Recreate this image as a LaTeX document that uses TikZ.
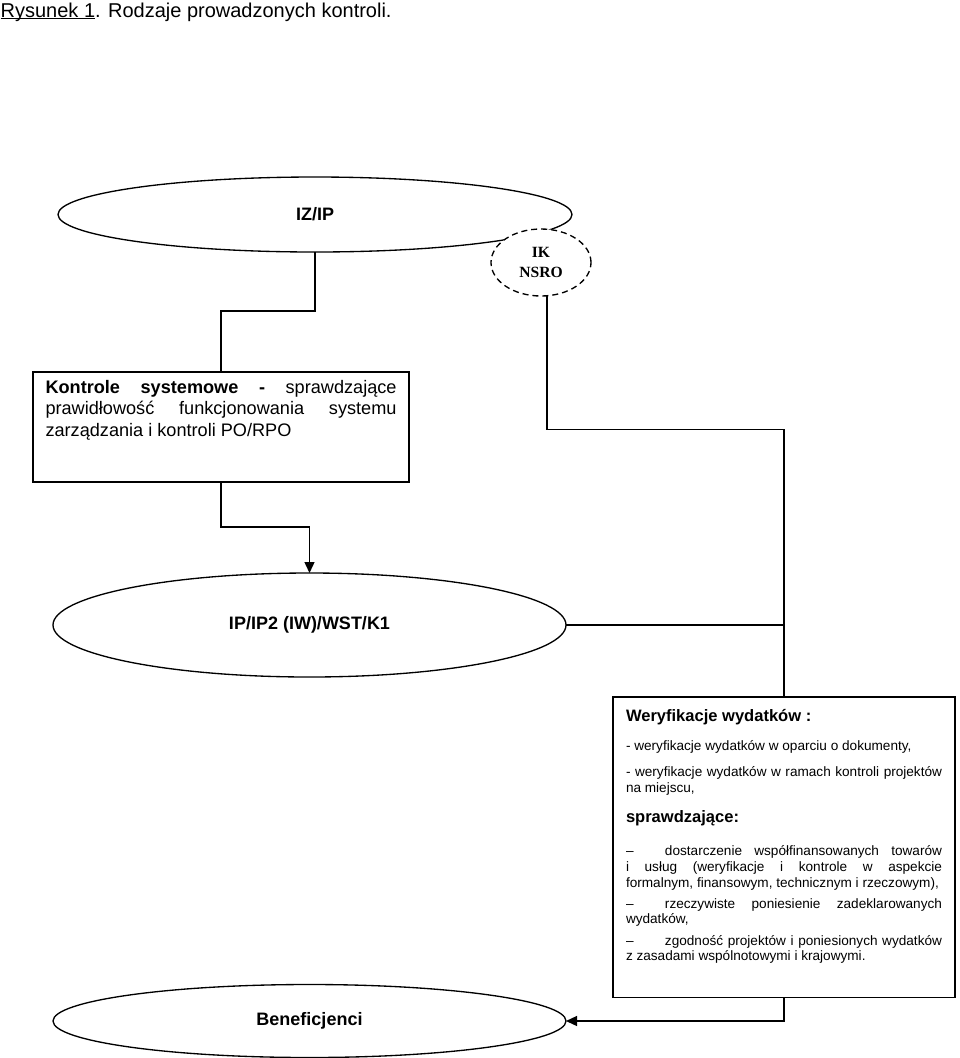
\documentclass[tikz,border=0pt]{standalone}
\usepackage{fontspec}
\setmainfont{Liberation Sans}
\newfontfamily\szeryf{Liberation Serif}
\usetikzlibrary{shapes.geometric,arrows.meta}
\newsavebox{\podkreslbox}
\newcommand{\podkresl}[1]{\sbox\podkreslbox{#1}\rlap{\rule[-1.6pt]{\wd\podkreslbox}{0.75pt}}\usebox\podkreslbox}
\begin{document}
\begin{tikzpicture}[x=0.75pt,y=-0.75pt,line width=1pt,
  owal/.style={ellipse,draw,fill=white,inner sep=0pt,outer sep=0pt,font=\fontsize{13.5pt}{16pt}\bfseries},
  ramka/.style={rectangle,draw,anchor=north west,align=justify,outer sep=0pt},
  strz/.style={-{Triangle[length=8.25pt,width=7.5pt]}}]
\useasboundingbox (0,0) rectangle (960,1058);
%title
\node[anchor=base west,inner sep=0pt,font=\fontsize{15pt}{18pt}\selectfont] (tytul) at (0,17.3) {\podkresl{Rysunek 1}. Rodzaje prowadzonych kontroli.};
%ellipses
\node[owal,minimum width=385.5pt,minimum height=56.25pt] (izip) at (315,214.5) {IZ/IP};
\node[owal,dash pattern=on 4.5pt off 3pt,minimum width=75pt,minimum height=50.25pt,align=center,
  font=\fontsize{11.7pt}{14.5pt}\szeryf\bfseries] (ik) at (541,262.5) {IK\\NSRO};
\node[owal,minimum width=384.75pt,minimum height=78pt] (ipip) at (309.5,625) {IP/IP2 (IW)/WST/K1};
\node[owal,minimum width=384.75pt,minimum height=54.75pt] (benef) at (309.5,1021) {Beneficjenci};
%boxes
\node[ramka,text width=263.25pt,inner xsep=9.4pt,inner ysep=6pt,text depth=60.75pt,
  font=\fontsize{13.6pt}{16.2pt}\selectfont] (kontrole) at (33,372)
  {\textbf{Kontrole systemowe -} sprawdzające\linebreak
   prawidłowość funkcjonowania systemu\linebreak
   zarządzania i kontroli PO/RPO};
\node[ramka,text width=237pt,inner xsep=9.75pt,inner ysep=9pt,text depth=198.5pt,
  font={\fontsize{10.2pt}{11.7pt}\selectfont\hyphenpenalty=10000\exhyphenpenalty=10000}] (weryf) at (613,697)
  {{\fontsize{12.4pt}{11.7pt}\bfseries Weryfikacje wydatków :\par}
   \vspace{10.25pt}
   - weryfikacje wydatków w oparciu o dokumenty,\par
   \vspace{8pt}
   - weryfikacje wydatków w ramach kontroli projektów\linebreak na miejscu,\par
   \vspace{11pt}
   {\fontsize{12.4pt}{11.7pt}\bfseries sprawdzające:\par}
   \vspace{13.25pt}
   \makebox[29.25pt][l]{–}dostarczenie współfinansowanych towarów\linebreak
   i usług (weryfikacje i kontrole w aspekcie\linebreak
   formalnym, finansowym, technicznym i rzeczowym),\par
   \vspace{4.25pt}
   \makebox[29.25pt][l]{–}rzeczywiste poniesienie zadeklarowanych\linebreak wydatków,\par
   \vspace{4.25pt}
   \makebox[29.25pt][l]{–}zgodność projektów i poniesionych wydatków\linebreak
   z zasadami wspólnotowymi i krajowymi.};
%connectors
\draw (izip.south) -- ++(0,59) -| (kontrole.north);
\draw[strz] (kontrole.south) -- ++(0,45) -| (ipip.north);
\draw (ik.-80) -- ++(0,133.5) -| (weryf.north);
\draw (ipip.east) -- (ipip.east -| weryf.north);
\draw[strz] (weryf.south) |- (benef.east);
\end{tikzpicture}
\end{document}
